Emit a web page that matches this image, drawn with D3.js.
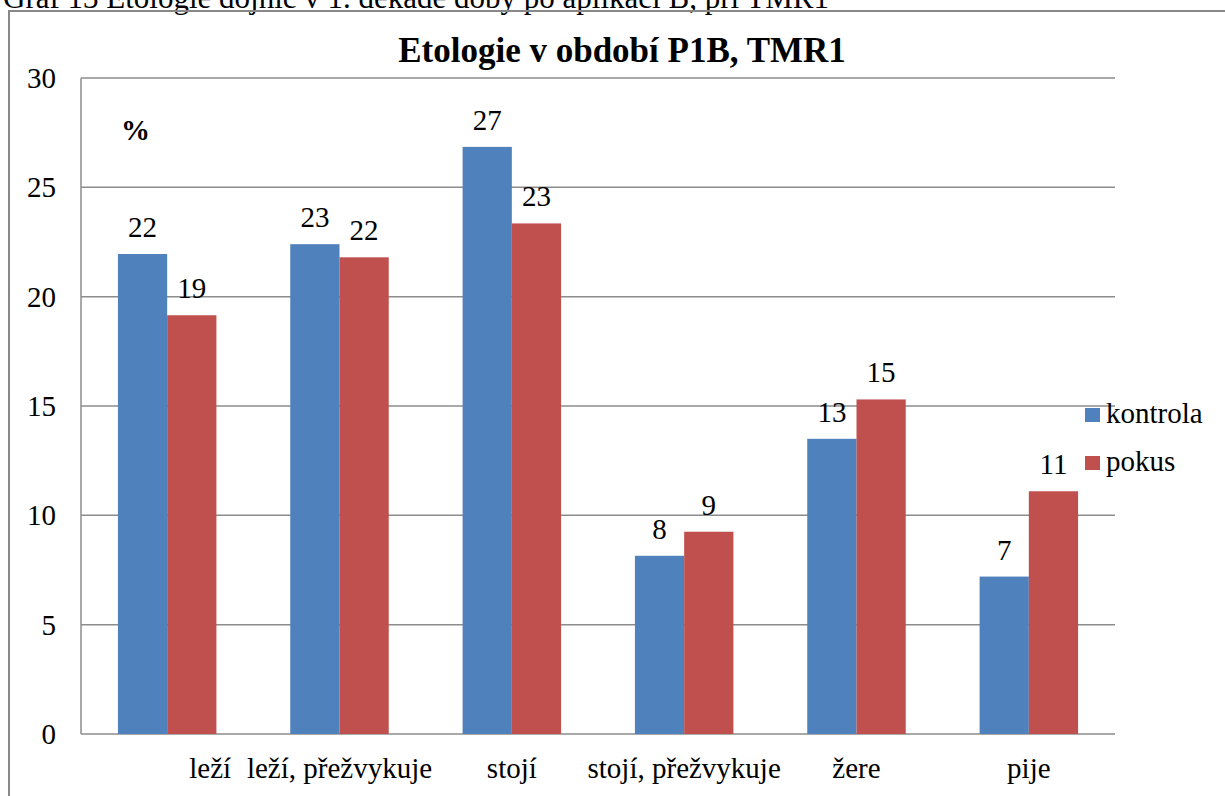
<!DOCTYPE html>
<meta charset="utf-8">
<title>Etologie v období P1B, TMR1</title>
<style>
body { margin: 0; background: #fff; }
svg text { font-family: "Liberation Serif"; }
</style>
<body>
<script src="https://d3js.org/d3.v7.min.js"></script>
<script>

var width = 1225,
    height = 796;

var categories = ["leží", "leží, přežvykuje", "stojí", "stojí, přežvykuje", "žere", "pije"];
var kontrola = [21.95, 22.4, 26.85, 8.15, 13.5, 7.2];
var pokus = [19.15, 21.8, 23.35, 9.25, 15.3, 11.1];
var labelsKontrola = ["22", "23", "27", "8", "13", "7"];
var labelsPokus = ["19", "22", "23", "9", "15", "11"];
var yTicks = [0, 5, 10, 15, 20, 25, 30];
var seriesNames = ["kontrola", "pokus"];
var colors = ["#4F81BD", "#C0504D"];

var margin = {left: 81, right: 110, top: 78, bottom: 62};
var fs = "29px";

var svg = d3.select("body").append("svg")
    .attr("width", width)
    .attr("height", height);

// caption of the page, cut off at the top like in the original
svg.append("text")
    .attr("x", 3)
    .attr("y", 8)
    .attr("font-size", "31px")
    .text("Graf 13 Etologie dojnic v 1. dekádě doby po aplikaci B, při TMR1");

// chart frame
svg.append("rect")
    .attr("x", 9)
    .attr("y", 11)
    .attr("width", width + 20)
    .attr("height", height + 20)
    .attr("fill", "none")
    .attr("stroke", "#888")
    .attr("stroke-width", 2);

var x0 = d3.scaleBand()
    .domain(categories)
    .range([margin.left, width - margin.right]);

var bw = x0.bandwidth() / 3.5;

var y = d3.scaleLinear()
    .domain([0, 30])
    .range([height - margin.bottom, margin.top]);

// gridlines
svg.append("g")
    .selectAll("line")
    .data(yTicks)
    .enter().append("line")
    .attr("x1", margin.left)
    .attr("x2", width - margin.right)
    .attr("y1", function(d) { return y(d); })
    .attr("y2", function(d) { return y(d); })
    .attr("stroke", "#8c8c8c")
    .attr("stroke-width", 1.5);

svg.append("line")
    .attr("x1", margin.left).attr("x2", margin.left)
    .attr("y1", y(30)).attr("y2", y(0))
    .attr("stroke", "#8c8c8c")
    .attr("stroke-width", 1.5);

// y tick labels
svg.append("g")
    .selectAll("text")
    .data(yTicks)
    .enter().append("text")
    .attr("x", 56)
    .attr("y", function(d) { return y(d) + 10; })
    .attr("text-anchor", "end")
    .attr("font-size", fs)
    .text(function(d) { return d; });

var series = [kontrola, pokus];
var labels = [labelsKontrola, labelsPokus];

series.forEach(function(vals, s) {
    var g = svg.append("g");
    g.selectAll("rect")
        .data(vals)
        .enter().append("rect")
        .attr("x", function(d, i) { return x0(categories[i]) + x0.bandwidth() / 2 - bw + s * bw; })
        .attr("y", function(d) { return y(d); })
        .attr("width", bw)
        .attr("height", function(d) { return y(0) - y(d); })
        .attr("fill", colors[s]);

    g.selectAll("text")
        .data(vals)
        .enter().append("text")
        .attr("x", function(d, i) { return x0(categories[i]) + x0.bandwidth() / 2 - bw / 2 + s * bw; })
        .attr("y", function(d) { return y(d) - 17; })
        .attr("text-anchor", "middle")
        .attr("font-size", fs)
        .text(function(d, i) { return labels[s][i]; });
});

// category labels ("leží" sits off-centre in the original)
svg.append("g")
    .selectAll("text")
    .data(categories)
    .enter().append("text")
    .attr("x", function(d, i) { return x0(d) + x0.bandwidth() / 2 + (i == 0 ? 43 : 0); })
    .attr("y", 778)
    .attr("text-anchor", "middle")
    .attr("font-size", fs)
    .text(function(d) { return d; });

// title
svg.append("text")
    .attr("x", 622)
    .attr("y", 62)
    .attr("text-anchor", "middle")
    .attr("font-size", "35px")
    .attr("font-weight", "bold")
    .text("Etologie v období P1B, TMR1");

svg.append("text")
    .attr("x", 121)
    .attr("y", 140)
    .attr("font-size", fs)
    .attr("font-weight", "bold")
    .text("%");

// legend
var legend = svg.append("g")
    .selectAll("g")
    .data(seriesNames)
    .enter().append("g")
    .attr("transform", function(d, i) { return "translate(1085," + (408 + i * 48) + ")"; });

legend.append("rect")
    .attr("width", 15)
    .attr("height", 14)
    .attr("fill", function(d, i) { return colors[i]; });

legend.append("text")
    .attr("x", 21)
    .attr("y", 15)
    .attr("font-size", fs)
    .text(function(d) { return d; });

</script>
</body>
